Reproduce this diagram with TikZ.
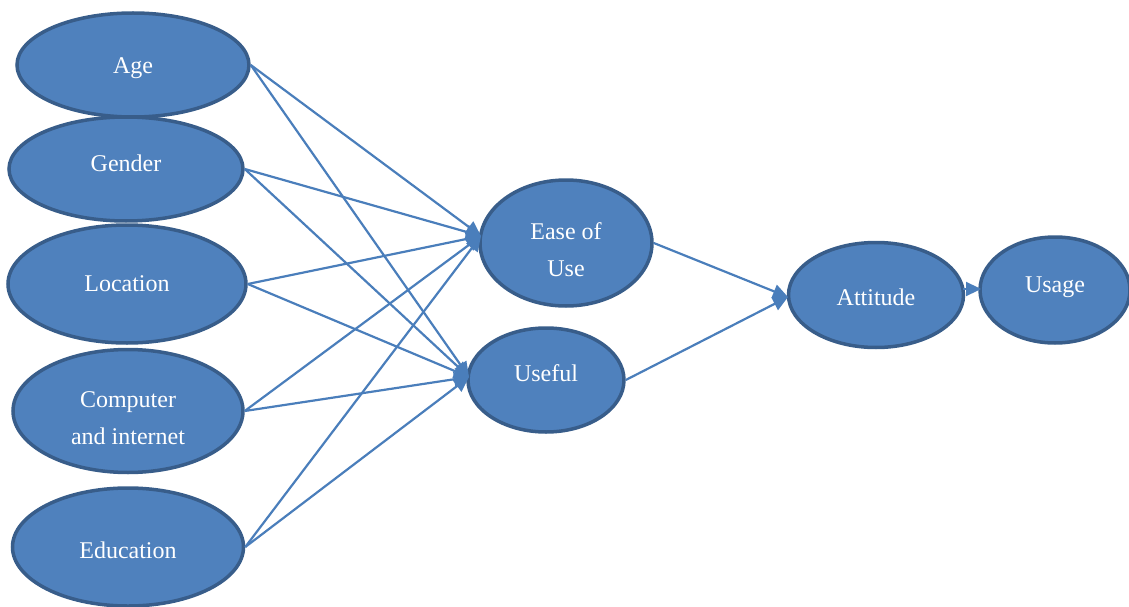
\documentclass[tikz,border=0pt]{standalone}
\usepackage{fontspec}
\setmainfont{Liberation Serif}
\usetikzlibrary{shapes.geometric,arrows.meta}
\definecolor{fillblue}{HTML}{4F81BD}
\definecolor{edgeblue}{HTML}{385D8A}
\definecolor{lineblue}{HTML}{4A7EBB}
\begin{document}
\begin{tikzpicture}[x=1pt,y=-1pt,
  oval/.style={ellipse,draw=edgeblue,line width=3.5pt,fill=fillblue,inner sep=0pt},
  txt/.style={text=white,align=center,inner sep=0pt,font=\fontsize{24}{37}\selectfont},
  conn/.style={draw=lineblue,line width=2.2pt,-{Triangle[length=15pt,width=14pt]}}]
\useasboundingbox (0,0) rectangle (1129,607);
\node[oval,minimum width=232pt,minimum height=104pt,label={[txt,yshift=-3pt]center:Age}] (age) at (133,65) {};
\node[oval,minimum width=234pt,minimum height=104pt,label={[txt,yshift=6pt]center:Gender}] (gender) at (126,169) {};
\node[oval,minimum width=238pt,minimum height=118pt,label={[txt]center:Location}] (location) at (127,284) {};
\node[oval,minimum width=230pt,minimum height=123pt,label={[txt,yshift=-7pt]center:Computer\\and internet}] (computer) at (128,411) {};
\node[oval,minimum width=231pt,minimum height=118pt,label={[txt,yshift=-3pt]center:Education}] (education) at (128,547) {};
\node[oval,minimum width=172pt,minimum height=126pt,label={[txt,yshift=-7pt]center:Ease of\\Use}] (ease) at (566,243) {};
\node[oval,minimum width=156pt,minimum height=104pt,label={[txt,yshift=7pt]center:Useful}] (useful) at (546,380) {};
\node[oval,minimum width=175pt,minimum height=105pt,label={[txt,yshift=-2pt]center:Attitude}] (attitude) at (876,295) {};
\node[oval,minimum width=150pt,minimum height=106pt,label={[txt,yshift=3pt]center:Usage}] (usage) at (1055,290) {};
\coordinate (easein) at (481,236);
\coordinate (usefulin) at (469,377);
\coordinate (attin) at (788,297);
\coordinate (usagein) at (981,289);
\coordinate (attout) at (963,289);
\foreach \s in {age,gender,location,computer,education}{
  \draw[conn] (\s.east) -- (easein);
  \draw[conn] (\s.east) -- (usefulin);
}
\draw[conn] (ease.east) -- (attin);
\draw[conn] (useful.east) -- (attin);
\draw[conn] (attout) -- (usagein);
\end{tikzpicture}
\end{document}
